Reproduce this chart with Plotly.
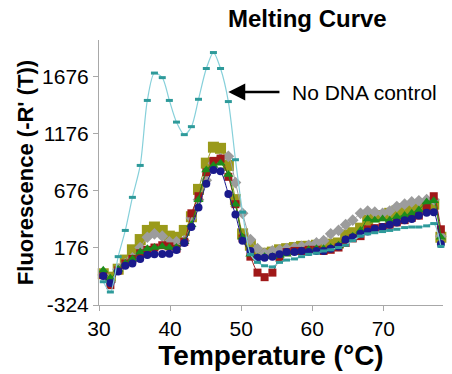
import plotly.graph_objects as go

temps = [30.6, 31.6, 32.7, 33.7, 34.7, 35.8, 36.8, 37.8, 38.9, 39.9, 40.9, 42.0, 43.0, 44.0,
         45.1, 46.1, 47.1, 48.2, 49.2, 50.2, 51.3, 52.3, 53.3, 54.4, 55.4, 56.4, 57.5, 58.5,
         59.5, 60.6, 61.6, 62.6, 63.7, 64.7, 65.7, 66.8, 67.8, 68.8, 69.9, 70.9, 71.9, 73.0,
         74.0, 75.0, 76.1, 77.1, 78.1]

sample_blue = [-70, -130, -30, 20, 40, 80, 115, 120, 123, 125, 158, 220, 360, 530, 740, 860,
               850, 650, 470, 240, 150, 90, 90, 100, 120, 140, 140, 150, 140, 150, 150, 170,
               190, 250, 270, 300, 320, 345, 360, 380, 400, 420, 430, 460, 485, 490, 210]
sample_red = [-60, -150, -20, 40, 80, 130, 160, 180, 200, 190, 170, 230, 480, 630, 840, 940,
              960, 800, 560, 260, 100, -40, -80, -40, 90, 140, 150, 150, 160, 160, 150, 160,
              180, 220, 260, 280, 340, 350, 360, 380, 400, 420, 440, 460, 540, 630, 340]
sample_green = [-20, -90, -10, 40, 80, 140, 170, 180, 190, 180, 180, 230, 380, 600, 860, 900,
                920, 820, 560, 270, 120, 90, 100, 100, 110, 120, 140, 150, 160, 170, 170, 180,
                200, 250, 280, 330, 430, 420, 430, 420, 450, 460, 480, 510, 580, 590, 270]
sample_gray = [-60, -120, -10, 40, 90, 180, 270, 300, 280, 230, 230, 240, 440, 600, 770, 920,
               960, 980, 750, 480, 250, 170, 130, 150, 160, 170, 180, 190, 200, 220, 240, 300,
               330, 380, 420, 480, 500, 490, 480, 500, 540, 560, 580, 590, 600, 600, 280]
sample_olive = [-50, -80, -10, 70, 160, 250, 330, 360, 330, 280, 270, 330, 450, 690, 920, 1060,
                1050, 900, 600, 300, 200, 120, 130, 140, 160, 170, 180, 190, 190, 200, 200, 210,
                220, 290, 310, 350, 420, 450, 460, 480, 500, 520, 530, 550, 550, 560, 270]
no_dna = [-120, -210, 100, 330, 620, 900, 1470, 1710, 1670, 1470, 1280, 1170, 1240, 1480, 1750,
          1890, 1750, 1460, 950, 490, 120, 50, 20, 10, 50, 70, 80, 100, 120, 130, 150, 160, 180,
          200, 240, 280, 300, 310, 320, 330, 340, 355, 360, 360, 370, 390, 190]

y_ticks = [-324, 176, 676, 1176, 1676]
x_ticks = [30, 40, 50, 60, 70]

fig = go.Figure()

series = [
    ("Sample 5", sample_olive, "#9a9a1a", "square", 11),
    ("Sample 4", sample_gray, "#9c9c9c", "diamond", 9),
    ("Sample 2", sample_red, "#a01818", "square", 8),
    ("Sample 3", sample_green, "#1c8c1c", "triangle-up", 9),
    ("Sample 1", sample_blue, "#1a1a8c", "circle", 8),
]
for name, vals, col, sym, size in series:
    fig.add_trace(go.Scatter(
        x=temps, y=vals, name=name, mode="lines+markers",
        line=dict(color=col, width=1, shape="spline", smoothing=0.6),
        marker=dict(symbol=sym, size=size, color=col, line=dict(width=0)),
        cliponaxis=False,
    ))

fig.add_trace(go.Scatter(
    x=temps, y=no_dna, name="No DNA control", mode="lines+markers",
    line=dict(color="#86d0da", width=1.2, shape="spline", smoothing=0.8),
    marker=dict(symbol="line-ew", size=5, color="#2e9a9a",
                line=dict(color="#2e9a9a", width=3)),
    cliponaxis=False,
))

fig.add_annotation(x=48.2, y=1544, ax=55.6, ay=1544, xref="x", yref="y",
                   axref="x", ayref="y", text="", showarrow=True,
                   arrowhead=2, arrowsize=1.3, arrowwidth=2.6, arrowcolor="black")
fig.add_annotation(x=56.9, y=1544, xref="x", yref="y", text="No DNA control",
                   showarrow=False, xanchor="left", yanchor="middle",
                   font=dict(family="Liberation Sans, Arial", size=21, color="black"))

fig.update_layout(
    width=452, height=374,
    margin=dict(l=99, r=9, t=40, b=69),
    paper_bgcolor="white", plot_bgcolor="white",
    showlegend=False,
    title=dict(text="<b>Melting Curve</b>", x=0.68, xanchor="center", y=0.95,
               yanchor="middle",
               font=dict(family="Liberation Sans, Arial", size=24, color="black")),
    font=dict(family="Liberation Sans, Arial", color="black"),
)
fig.update_xaxes(
    range=[30, 78.4], tickvals=x_ticks, ticktext=[str(v) for v in x_ticks],
    showgrid=False, zeroline=False, showline=True, linecolor="#a8a8a8", linewidth=1,
    ticks="outside", ticklen=5, tickcolor="#a8a8a8", tickfont=dict(size=21),
    title=dict(text="<b>Temperature (°C)</b>", font=dict(size=28), standoff=0),
)
fig.update_yaxes(
    range=[-324, 2000], tickvals=y_ticks, ticktext=[str(v) for v in y_ticks],
    showgrid=False, zeroline=False, showline=True, linecolor="#a8a8a8", linewidth=1,
    ticks="outside", ticklen=5, tickcolor="#a8a8a8", tickfont=dict(size=21),
    title=dict(text="<b>Fluorescence (-R' (T))</b>", font=dict(size=22), standoff=2),
)

fig.write_html("out.html")
